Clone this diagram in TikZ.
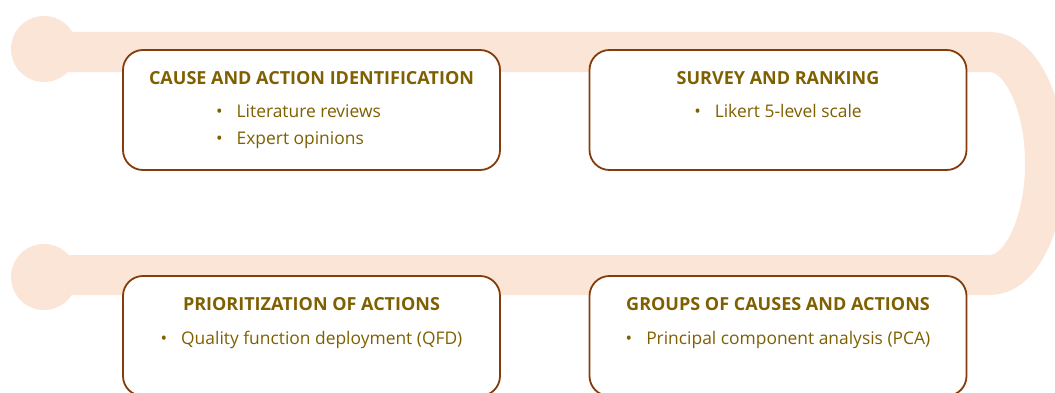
\documentclass[tikz,border=0pt]{standalone}
\usepackage{fontspec}
\setmainfont{Open Sans}
\usepackage{tikz}
\usetikzlibrary{positioning}
\definecolor{colorBanda}{HTML}{FBE5D6}
\definecolor{colorBorde}{HTML}{843C0C}
\definecolor{colorTexto}{HTML}{7F6000}

\begin{document}
\begin{tikzpicture}[
        x=1pt, y=1pt,
        banda/.style={line width=40pt, colorBanda},
        caja/.style={draw=colorBorde, fill=white, line width=1.8pt, rounded corners=20pt,
            minimum width=377pt, minimum height=120pt},
        tit/.style={text=colorTexto, font=\bfseries\fontsize{18}{21}\selectfont, inner sep=0pt},
        item/.style={text=colorTexto, font=\fontsize{17.4}{27}\selectfont, align=left, inner sep=0pt}
    ]
        \useasboundingbox (0,0) rectangle (1055,392);
        % banda de fondo
        \draw[banda] (44,340) -- (990,340)
            arc[start angle=90, end angle=-90, x radius=55, y radius=111.5] -- (44,117);
        \fill[colorBanda] (44,343) circle (33) (44,115) circle (33);
        % cajas
        \node[caja] (a) at (311.5,282) {};
        \node[caja] (b) at (778,282) {};
        \node[caja] (c) at (311.5,56) {};
        \node[caja] (d) at (778,56) {};
        \node[tit, below=22.5pt of a.north] (ta) {CAUSE AND ACTION IDENTIFICATION};
        \node[tit, below=22.5pt of b.north] (tb) {SURVEY AND RANKING};
        \node[tit, below=22.5pt of c.north] (tc) {PRIORITIZATION OF ACTIONS};
        \node[tit, below=22.5pt of d.north] (td) {GROUPS OF CAUSES AND ACTIONS};
        \node[item, below=19pt of ta, xshift=-13pt] (ia) {•\hspace{14pt}Literature reviews\\•\hspace{14pt}Expert opinions};
        \node[item, below=19pt of tb] (ib) {•\hspace{14pt}Likert 5-level scale};
        \node[item, below=19.5pt of tc] (ic) {•\hspace{14pt}Quality function deployment (QFD)};
        \node[item, below=19.5pt of td] (id) {•\hspace{14pt}Principal component analysis (PCA)};
    \end{tikzpicture}
\end{document}
